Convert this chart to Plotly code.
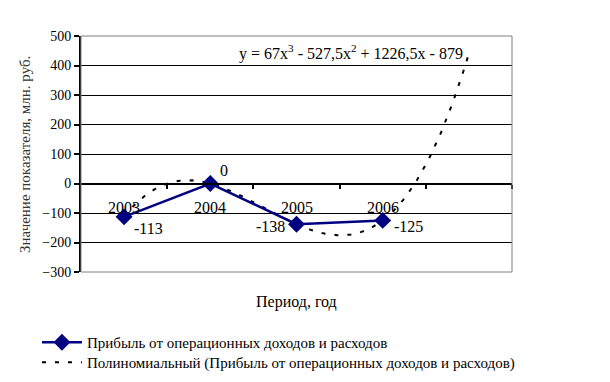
import numpy as np
import plotly.graph_objects as go

years = ["2003", "2004", "2005", "2006"]
profit = [-113, 0, -138, -125]
trend_coeffs = [67, -527.5, 1226.5, -879]   # coefficients shown in the chart label
y_ticks = [-300, -200, -100, 0, 100, 200, 300, 400, 500]

series_name = "Прибыль от операционных доходов и расходов"
trend_name = "Полиномиальный (Прибыль от операционных доходов и расходов)"
y_title = "Значение показателя, млн. руб."
x_title = "Период, год"

FONT = "Liberation Serif"

xpos = np.arange(1, len(years) + 1)
# polynomial trend (forecast one period forward)
tx = np.linspace(1, len(years) + 1, 200)
ty = np.polyval(trend_coeffs, tx)

fig = go.Figure()
fig.add_trace(go.Scatter(
    x=tx, y=ty, mode="lines", name=trend_name, legend="legend2",
    line=dict(color="black", width=2, dash="4px,9px"),
))
fig.add_trace(go.Scatter(
    x=xpos, y=profit, mode="lines+markers", name=series_name, legend="legend",
    line=dict(color="#000080", width=2.5),
    marker=dict(symbol="diamond", size=13, color="#000080"),
))

# data labels
offsets = [(24, -12), (14, 13), (-26, -2), (26, -6)]
for x, v, (dx, dy) in zip(xpos, profit, offsets):
    fig.add_annotation(x=x, y=v, text=str(v), showarrow=False, xshift=dx, yshift=dy,
                       font=dict(family=FONT, size=16, color="black"))
# category labels under the zero line
for x, yr in zip(xpos, years):
    fig.add_annotation(x=x, y=0, text=yr, showarrow=False, yshift=-24,
                       font=dict(family=FONT, size=16, color="black"))

coef_txt = "y = {}x<sup>3</sup> - {}x<sup>2</sup> + {}x - {}".format(
    trend_coeffs[0], str(-trend_coeffs[1]).replace(".", ","),
    str(trend_coeffs[2]).replace(".", ","), -trend_coeffs[3])
fig.add_annotation(x=0.627, xanchor="center", y=445, xref="paper", text=coef_txt, showarrow=False,
                   font=dict(family=FONT, size=16, color="black"))

fig.add_annotation(x=0.5, xanchor="center", y=-0.125, yanchor="middle", xref="paper", yref="paper",
                   text=x_title, showarrow=False,
                   font=dict(family=FONT, size=16, color="black"))

fig.add_annotation(x=-0.13, xanchor="center", y=0.5, yanchor="middle", xref="paper", yref="paper",
                   text=y_title, textangle=-90, showarrow=False,
                   font=dict(family=FONT, size=15, color="#333333"))

fig.add_shape(type="rect", xref="paper", yref="paper", x0=0, y0=0, x1=1, y1=1,
              line=dict(color="#808080", width=1), layer="above")

leg_common = dict(xref="container", yref="container", xanchor="left", yanchor="top",
                  font=dict(family=FONT, size=15), bgcolor="rgba(0,0,0,0)", itemwidth=40)

fig.update_layout(
    width=610, height=382,
    margin=dict(l=81, r=98, t=36, b=110, autoexpand=False),
    paper_bgcolor="white", plot_bgcolor="white",
    font=dict(family=FONT, size=16, color="black"),
    showlegend=True,
    legend=dict(x=0.0606, y=0.1466, **leg_common),
    legend2=dict(x=0.0606, y=0.0942, **leg_common),
    xaxis=dict(range=[0.5, 5.5], anchor="free", position=0.375, automargin=False,
               showgrid=False, zeroline=False, showline=True, linecolor="black", linewidth=2,
               tickvals=[1.5, 2.5, 3.5, 4.5, 5.5], ticks="outside", ticklen=4,
               tickcolor="black", tickwidth=2, showticklabels=False),
    yaxis=dict(range=[-300, 500], tickvals=y_ticks, showgrid=True, gridcolor="black",
               gridwidth=1, zeroline=False, showline=True, linecolor="black", linewidth=2,
               ticks="outside", ticklen=5, tickcolor="black", tickwidth=2, automargin=False,
               tickfont=dict(family=FONT, size=14)),
)

fig.write_html("out.html", config={"displayModeBar": False},
               post_script="document.body.style.margin='0';")
